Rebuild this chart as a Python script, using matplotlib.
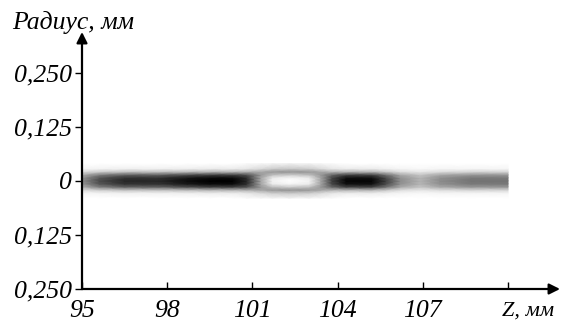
import numpy as np
import matplotlib
matplotlib.use("Agg")
import matplotlib.pyplot as plt
import matplotlib.transforms as mtrans

# ---- data ----
z_nodes = [95.0, 95.6, 96.5, 97.7, 98.7, 99.5, 100.3, 100.8, 101.3, 101.7, 102.3,
           103.0, 103.4, 103.8, 104.3, 105.2, 105.7, 106.2, 106.9, 107.6, 108.7, 110.0]
r_nodes = [0.0, 0.007, 0.014, 0.021, 0.028, 0.04]   # radial offsets, mm
# darkness (0 = white, 1 = black) along z at each radial offset
dark_r0 = [0.45, 0.70, 0.85, 0.85, 0.95, 1.00, 1.00, 0.85, 0.35, 0.05, 0.00,
           0.05, 0.35, 0.75, 0.98, 0.98, 0.75, 0.45, 0.30, 0.45, 0.55, 0.55]
dark_r1 = [0.42, 0.66, 0.80, 0.80, 0.90, 0.95, 0.95, 0.82, 0.35, 0.08, 0.04,
           0.08, 0.35, 0.72, 0.93, 0.93, 0.71, 0.43, 0.29, 0.43, 0.52, 0.52]
dark_r2 = [0.32, 0.50, 0.62, 0.62, 0.70, 0.75, 0.75, 0.68, 0.40, 0.25, 0.20,
           0.25, 0.40, 0.60, 0.74, 0.74, 0.56, 0.34, 0.23, 0.34, 0.41, 0.41]
dark_r3 = [0.14, 0.20, 0.25, 0.25, 0.28, 0.30, 0.30, 0.32, 0.35, 0.40, 0.42,
           0.40, 0.35, 0.30, 0.30, 0.30, 0.23, 0.14, 0.10, 0.14, 0.17, 0.17]
dark_r4 = [0.04, 0.05, 0.06, 0.06, 0.07, 0.08, 0.08, 0.10, 0.15, 0.20, 0.22,
           0.20, 0.15, 0.10, 0.08, 0.08, 0.06, 0.04, 0.03, 0.04, 0.04, 0.04]
dark_r5 = [0.0, 0.0, 0.0, 0.0, 0.0, 0.0, 0.0, 0.02, 0.03, 0.04, 0.05,
           0.04, 0.03, 0.02, 0.0, 0.0, 0.0, 0.0, 0.0, 0.0, 0.0, 0.0]

x_ticks = [95, 98, 101, 104, 107, 110]
x_labels = ["95", "98", "101", "104", "107", ""]
y_ticks = [-0.25, -0.125, 0, 0.125, 0.25]
y_labels = ["0,250", "0,125", "0", "0,125", "0,250"]
x_title = "Z, мм"
y_title = "Радиус, мм"

# ---- build grid ----
profiles = [dark_r0, dark_r1, dark_r2, dark_r3, dark_r4, dark_r5]
rows = profiles[::-1] + profiles[1:]
r_full = [-r for r in r_nodes[::-1]] + r_nodes[1:]
C = np.array(rows)
Zg, Rg = np.meshgrid(np.array(z_nodes), np.array(r_full))

fig = plt.figure(figsize=(5.61, 3.24), dpi=100)
ax = fig.add_axes([82 / 561, 35 / 324, (560 - 82) / 561, (289 - 32) / 324])
ax.pcolormesh(Zg, Rg, C, shading="gouraud", cmap="gray_r", vmin=0, vmax=1)

ax.set_xlim(95, 111.83)
ax.set_ylim(-0.25, 0.344)
for s in ax.spines.values():
    s.set_visible(False)

for end in [(1, 0), (0, 1)]:
    ax.annotate("", xy=end, xytext=(0, 0), xycoords="axes fraction",
                arrowprops=dict(arrowstyle="-|>", color="k", lw=1.6,
                                mutation_scale=16, shrinkA=0, shrinkB=0))

font = dict(family="Liberation Serif", style="italic", size=18.5)
ax.set_xticks(x_ticks)
ax.set_xticklabels(x_labels, **font)
ax.set_yticks(y_ticks)
ax.set_yticklabels(y_labels, **font)
ax.tick_params(axis="x", direction="in", length=5, width=1, pad=8)
ax.tick_params(axis="y", direction="out", length=5, width=1, pad=2)

zfont = dict(font, size=16)
ax.text(109.8, -0.25, x_title, ha="left", va="top", fontdict=zfont,
        transform=ax.transData + mtrans.ScaledTranslation(0, -9 / 72, fig.dpi_scale_trans))
fig.text(12 / 561, 1 - 29 / 324, y_title, ha="left", va="baseline", **font)

fig.savefig("out.png", dpi=100)
